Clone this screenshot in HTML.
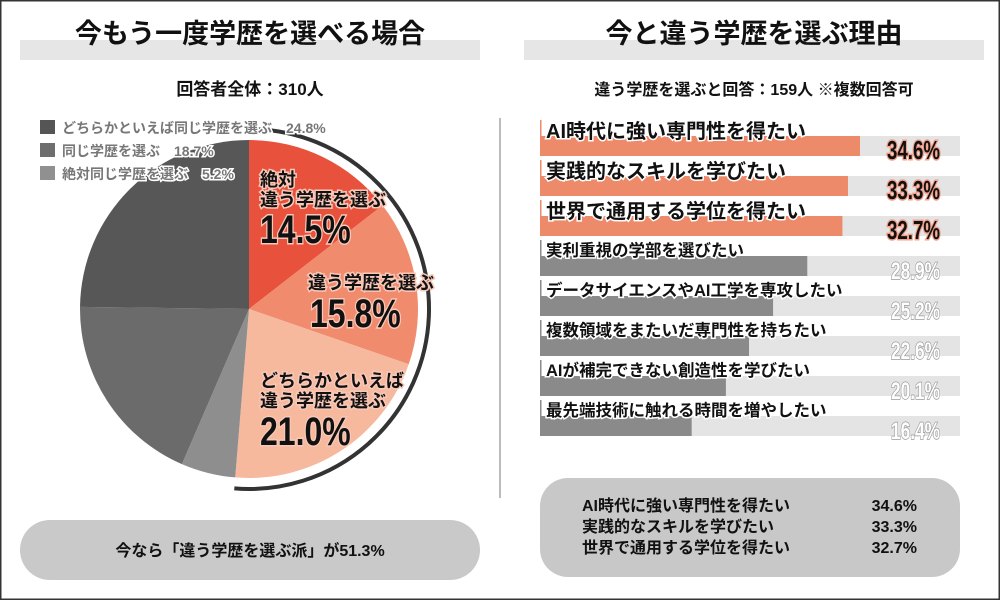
<!DOCTYPE html>
<html><head><meta charset="utf-8"><style>
html,body{margin:0;padding:0;background:#fff}
svg{display:block}
text{font-family:"Liberation Sans","Noto Sans CJK JP",sans-serif;font-weight:bold}
</style></head><body>
<svg id="s" width="1000" height="600" viewBox="0 0 1000 600" xmlns="http://www.w3.org/2000/svg">
<rect x="0.5" y="0.5" width="999" height="599" fill="#fff" stroke="#333" stroke-width="2"/>
<rect x="20" y="40" width="460" height="20" fill="#e6e6e6"/>
<text x="250" y="43" font-size="27" text-anchor="middle" fill="#111">今もう一度学歴を選べる場合</text>
<rect x="524" y="40" width="460" height="20" fill="#e6e6e6"/>
<text x="754" y="43" font-size="27" text-anchor="middle" fill="#111">今と違う学歴を選ぶ理由</text>
<text x="250" y="95" font-size="17" text-anchor="middle" fill="#111">回答者全体：310人</text>
<text x="754" y="95" font-size="16" text-anchor="middle" fill="#111">違う学歴を選ぶと回答：159人 ※複数回答可</text>
<line x1="500" y1="118" x2="500" y2="498" stroke="#bbb" stroke-width="2"/>
<g id="pie"></g>
<path id="ring" fill="none" stroke="#333" stroke-width="4"/>
<rect x="40" y="120" width="15" height="14" fill="#555"/>
<rect x="40" y="143" width="15" height="14" fill="#6e6e6e"/>
<rect x="40" y="166" width="15" height="14" fill="#909090"/>
<g font-size="14" fill="#777" stroke="#fff" stroke-width="3" paint-order="stroke">
<text x="62" y="133">どちらかといえば同じ学歴を選ぶ　24.8%</text>
<text x="62" y="156">同じ学歴を選ぶ　18.7%</text>
<text x="62" y="179">絶対同じ学歴を選ぶ　5.2%</text>
</g>
<g fill="#111" stroke="#f8c8b8" stroke-width="3" paint-order="stroke">
<text x="260" y="186" font-size="18">絶対</text>
<text x="260" y="206" font-size="18">違う学歴を選ぶ</text>
<text x="260" y="243" font-size="40" transform="translate(260 0) scale(0.8 1) translate(-260 0)">14.5%</text>
<text x="308" y="289" font-size="18">違う学歴を選ぶ</text>
<text x="310" y="327" font-size="40" transform="translate(310 0) scale(0.8 1) translate(-310 0)">15.8%</text>
<text x="260" y="387" font-size="18">どちらかといえば</text>
<text x="260" y="407" font-size="18">違う学歴を選ぶ</text>
<text x="260" y="445" font-size="40" transform="translate(260 0) scale(0.8 1) translate(-260 0)">21.0%</text>
</g>
<rect x="20" y="520" width="460" height="60" rx="30" fill="#c9c9c9"/>
<text x="250" y="556" font-size="16" text-anchor="middle" fill="#111">今なら「違う学歴を選ぶ派」が51.3%</text>
<g id="bars"></g>
<rect x="540" y="478" width="420" height="99" rx="28" fill="#c8c8c8"/>
<g font-size="16" fill="#111">
<text x="582" y="511">AI時代に強い専門性を得たい</text>
<text x="582" y="532">実践的なスキルを学びたい</text>
<text x="582" y="553">世界で通用する学位を得たい</text>
<text x="917" y="511" text-anchor="end" font-weight="normal">34.6%</text>
<text x="917" y="532" text-anchor="end" font-weight="normal">33.3%</text>
<text x="917" y="553" text-anchor="end" font-weight="normal">32.7%</text>
</g>
</svg>
<script>
var NS="http://www.w3.org/2000/svg";
var cx=249,cy=309,r=169;
var d=[[14.5,"#e8523c"],[15.8,"#f08b6e"],[21.0,"#f6b99e"],[5.2,"#8e8e8e"],[18.7,"#6b6b6b"],[24.8,"#575757"]];
function pt(a,R){var t=a/100*2*Math.PI;return [cx+R*Math.sin(t),cy-R*Math.cos(t)];}
var acc=0,g=document.getElementById("pie");
d.forEach(function(s){var p0=pt(acc,r),p1=pt(acc+s[0],r);var large=s[0]>50?1:0;
var p=document.createElementNS(NS,"path");
p.setAttribute("d","M"+cx+","+cy+"L"+p0[0]+","+p0[1]+"A"+r+","+r+" 0 "+large+" 1 "+p1[0]+","+p1[1]+"Z");
p.setAttribute("fill",s[1]);g.appendChild(p);acc+=s[0];});
var R2=180,a0=pt(0,R2),a1=pt(51.3,R2);
document.getElementById("ring").setAttribute("d","M"+a0[0]+","+a0[1]+"A"+R2+","+R2+" 0 1 1 "+a1[0]+","+a1[1]);
var b=[["AI時代に強い専門性を得たい",34.6,1],["実践的なスキルを学びたい",33.3,1],["世界で通用する学位を得たい",32.7,1],
["実利重視の学部を選びたい",28.9,0],["データサイエンスやAI工学を専攻したい",25.2,0],["複数領域をまたいだ専門性を持ちたい",22.6,0],
["AIが補完できない創造性を学びたい",20.1,0],["最先端技術に触れる時間を増やしたい",16.4,0]];
var G=document.getElementById("bars");
function el(t,a,txt){var e=document.createElementNS(NS,t);for(var k in a)e.setAttribute(k,a[k]);if(txt)e.textContent=txt;G.appendChild(e);return e;}
b.forEach(function(x,i){var y=136+i*40;var w=x[1]/34.6*320;
el("rect",{x:540,y:y,width:420,height:20,fill:"#e4e4e4"});
el("rect",{x:540,y:y,width:w,height:20,fill:x[2]?"#ec8a6a":"#8a8a8a"});
el("rect",{x:540,y:y-16,width:1.5,height:16,fill:x[2]?"#ec8a6a":"#8a8a8a"});
el("text",{x:546,y:y+(x[2]?2:0),"font-size":x[2]?20:16.5,fill:"#111",stroke:"#fff","stroke-width":3,"paint-order":"stroke"},x[0]);
var tx=940;
el("text",{x:tx,y:y+23,"font-size":x[2]?26:24,"text-anchor":"end",fill:x[2]?"#111":"#fff",stroke:x[2]?"#f2a08a":"#999","stroke-width":x[2]?3:1.5,"paint-order":"stroke",transform:"translate("+tx+" 0) scale(0.72 1) translate(-"+tx+" 0)"},x[1].toFixed(1)+"%");
});
</script>
</body></html>
